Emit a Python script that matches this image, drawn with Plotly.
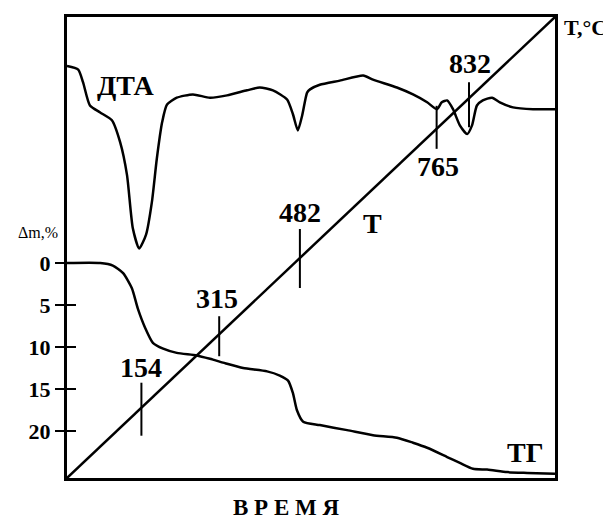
import plotly.graph_objects as go

# ---- data ----
# TG curve: time (% of run) vs mass loss (%)
tg_time = [0, 6.8, 9.4, 11.5, 13.3, 14.5, 16.0, 17.6, 19.7, 22.5, 26.6, 29.3, 32.8, 36.1,
           41.0, 43.6, 45.3, 46.3, 47.1, 48.4, 51.8, 57.4, 62.7, 67.6, 70.9, 73.8, 77.9,
           80.5, 83.2, 86.1, 90.2, 94.3, 100]
tg_mass = [0, 0, 0.3, 1.2, 3.0, 5.4, 7.7, 9.5, 10.2, 10.7, 11.0, 11.4, 12.0, 12.5,
           12.9, 13.4, 14.0, 15.5, 17.5, 18.9, 19.3, 19.9, 20.5, 20.8, 21.4, 22.0, 23.1,
           23.8, 24.5, 24.6, 24.9, 25.0, 25.1]

# DTA curve: time vs signal (arbitrary units)
dta_time = [0, 2.3, 3.3, 4.7, 6.8, 9.2, 10.9, 12.3, 13.5, 14.8, 16.2, 17.4, 18.4, 19.5,
            20.5, 22.5, 25.8, 29.3, 32.8, 36.9, 39.5, 42.2, 45.1, 46.3, 47.3, 48.2, 49.2,
            49.8, 51.8, 55.9, 60.7, 62.7, 67.6, 70.9, 73.8, 75.8, 76.8, 77.9, 79.1, 80.5,
            82.0, 83.0, 84.0, 85.2, 87.1, 88.7, 91.4, 95.5, 100]
dta_signal = [89.4, 88.6, 85.8, 80.8, 79.3, 77.6, 72.8, 65.7, 54.1, 49.8, 52.8, 59.9, 69.2,
              77.2, 81.0, 82.5, 83.2, 82.5, 83.0, 84.1, 84.7, 84.1, 82.1, 78.9, 75.4, 78.7,
              83.6, 84.3, 85.3, 86.2, 87.3, 86.4, 84.7, 83.2, 81.5, 80.0, 81.5, 81.9, 80.0,
              76.5, 74.6, 76.5, 80.8, 81.9, 82.5, 81.5, 80.4, 80.0, 80.0]

# Temperature line (linear heating)
t_time = [0, 100]
t_temp = [0, 1010]

# Marked temperatures
mark_temps = [154, 315, 482, 765, 832]
mark_labels = ["154", "315", "482", "765", "832"]

dm_ticks = [0, 5, 10, 15, 20]
dm_ticktext = ["0", "5", "10", "15", "20"]

# ---- style ----
SERIF = "Liberation Serif"
mark_above = [25, 18, 29, 23, 16]     # px above T line
mark_below = [28, 22, 30, 20, 29]     # px below T line
label_dx = [0, -2, 0, 1, 1]
label_dy = [40, 36, 46, -38, 35]

# page body has an 8px default margin: compensate so the plot lands where intended
PAGE_OFF = 8
W, H = 611 - PAGE_OFF, 519 - PAGE_OFF

fig = go.Figure()

fig.add_trace(go.Scatter(x=tg_time, y=tg_mass, mode="lines", yaxis="y",
                         line=dict(color="black", width=2.5, shape="spline", smoothing=0.6),
                         hoverinfo="skip"))
fig.add_trace(go.Scatter(x=dta_time, y=dta_signal, mode="lines", yaxis="y3",
                         line=dict(color="black", width=2.5, shape="spline", smoothing=0.6),
                         hoverinfo="skip"))
fig.add_trace(go.Scatter(x=t_time, y=t_temp, mode="lines", yaxis="y2",
                         line=dict(color="black", width=2.5), hoverinfo="skip"))
# dummy trace for inside ticks axis
fig.add_trace(go.Scatter(x=[None], y=[None], mode="lines", yaxis="y4", hoverinfo="skip"))

tmax = t_temp[-1]
for T, lab_, a, b, dx, dy in zip(mark_temps, mark_labels, mark_above, mark_below, label_dx, label_dy):
    tx = T / tmax * t_time[-1]
    fig.add_shape(type="line", xref="x", yref="y2", ysizemode="pixel", yanchor=T,
                  x0=tx, x1=tx, y0=-b, y1=a, line=dict(color="black", width=2))
    fig.add_annotation(x=tx, y=T, xref="x", yref="y2", text=lab_, showarrow=False,
                       xshift=dx, yshift=dy, xanchor="center", yanchor="middle",
                       font=dict(family=SERIF, size=28, color="black", weight="bold"))

def lab(text, x, y, size, weight="bold"):
    fig.add_annotation(x=x, y=y, xref="paper", yref="paper", text=text, showarrow=False,
                       xanchor="center", yanchor="middle",
                       font=dict(family=SERIF, size=size, color="black", weight=weight))

lab("ДТА", 0.121, 0.851, 28)
lab("T", 0.625, 0.552, 28)
lab("T,°C", 1.062, 0.978, 22)
lab("ТГ", 0.939, 0.056, 28)
lab("В Р Е М Я", 0.449, -0.0647, 23)
lab("Δm,%", -0.059, 0.532, 16, "normal")

yr = [25.6, -29.3]
fig.update_layout(
    width=W, height=H,
    margin=dict(l=67 - PAGE_OFF, r=56, t=14 - PAGE_OFF, b=41, pad=0),
    paper_bgcolor="white", plot_bgcolor="white",
    showlegend=False,
    xaxis=dict(range=[0, 100], showticklabels=False, ticks="", showgrid=False,
               zeroline=False, showline=True, linewidth=3, linecolor="black", mirror=True),
    yaxis=dict(range=yr, tickvals=dm_ticks, ticktext=dm_ticktext, ticks="outside",
               ticklen=9, tickwidth=2, tickcolor="black", showgrid=False, zeroline=False,
               showline=True, linewidth=3, linecolor="black", mirror=True,
               tickfont=dict(family=SERIF, size=22, color="black", weight="bold")),
    yaxis2=dict(range=[0, tmax], overlaying="y", visible=False),
    yaxis3=dict(range=[0, 100], overlaying="y", visible=False),
    yaxis4=dict(range=yr, overlaying="y", tickvals=dm_ticks, ticks="inside", ticklen=9,
                tickwidth=2, tickcolor="black", showticklabels=False, showgrid=False,
                zeroline=False, showline=False),
)

fig.write_html("out.html")
